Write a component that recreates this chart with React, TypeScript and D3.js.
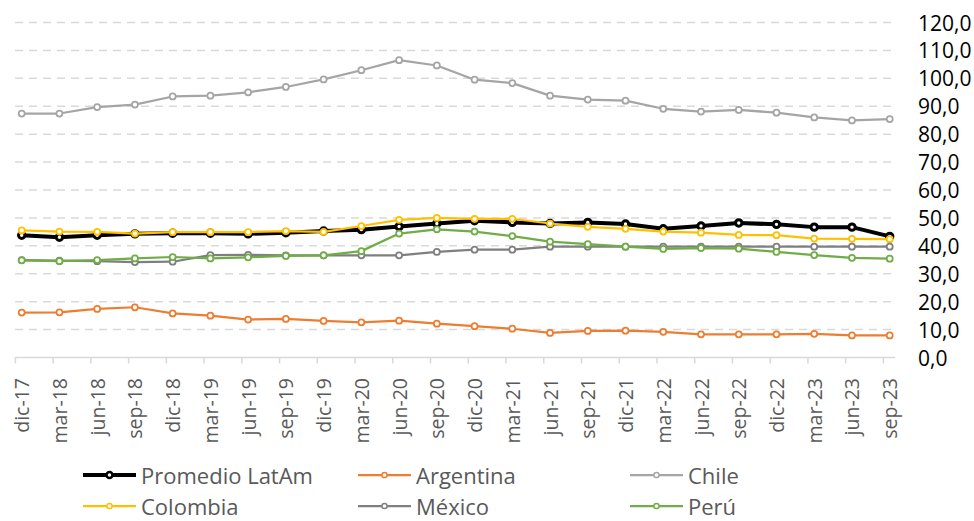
import React from "react";
import * as d3 from "d3";

const categories = [
  "dic-17", "mar-18", "jun-18", "sep-18", "dic-18", "mar-19", "jun-19", "sep-19",
  "dic-19", "mar-20", "jun-20", "sep-20", "dic-20", "mar-21", "jun-21", "sep-21",
  "dic-21", "mar-22", "jun-22", "sep-22", "dic-22", "mar-23", "jun-23", "sep-23",
];

const promedio = [43.8, 43.1, 43.8, 44.3, 44.5, 44.5, 44.3, 44.7, 45.3, 45.8, 46.9, 48.0, 49.0, 48.4, 48.0, 48.4, 47.8, 46.1, 47.1, 48.2, 47.7, 46.7, 46.7, 43.4];
const argentina = [16.1, 16.2, 17.4, 18.0, 15.8, 15.0, 13.6, 13.8, 13.1, 12.6, 13.2, 12.1, 11.2, 10.3, 8.8, 9.5, 9.6, 9.2, 8.3, 8.3, 8.3, 8.5, 7.9, 7.9];
const chile = [87.4, 87.4, 89.7, 90.6, 93.5, 93.8, 95.0, 96.9, 99.6, 102.9, 106.5, 104.6, 99.5, 98.3, 93.8, 92.4, 92.0, 89.1, 88.1, 88.7, 87.7, 86.0, 84.9, 85.4];
const colombia = [45.5, 45.1, 45.0, 44.4, 44.9, 44.9, 44.9, 45.3, 45.0, 47.1, 49.3, 50.0, 49.7, 49.7, 48.0, 46.8, 46.1, 45.1, 44.7, 43.9, 43.8, 42.6, 42.5, 42.4];
const mexico = [34.9, 34.7, 34.5, 34.2, 34.3, 36.7, 36.8, 36.6, 36.6, 36.6, 36.6, 37.8, 38.6, 38.6, 39.7, 39.7, 39.7, 39.7, 39.7, 39.7, 39.7, 39.7, 39.7, 39.7];
const peru = [34.8, 34.5, 34.9, 35.5, 36.0, 35.5, 35.9, 36.4, 36.6, 38.1, 44.4, 45.9, 45.1, 43.5, 41.5, 40.6, 39.7, 38.9, 39.2, 39.0, 37.8, 36.7, 35.7, 35.4];

const seriesNames = ["Promedio LatAm", "Argentina", "Chile", "Colombia", "México", "Perú"];
const seriesColors = ["#000000", "#ED7D31", "#A5A5A5", "#FFC000", "#7F7F7F", "#70AD47"];
const seriesValues = [promedio, argentina, chile, colombia, mexico, peru];

const yTicks = [0, 10, 20, 30, 40, 50, 60, 70, 80, 90, 100, 110, 120];

const FONT = "'Open Sans', 'Noto Sans', sans-serif";

export default function App() {
  const width = 974;
  const height = 521;
  const x = d3.scalePoint<string>().domain(categories).range([21.7, 889.7]);
  const y = d3.scaleLinear().domain([0, 120]).range([357.5, 22.5]);
  const fmt = (v: number) => d3.format(".1f")(v).replace(".", ",");
  const line = d3
    .line<number>()
    .x((_, i) => x(categories[i]) as number)
    .y((d) => y(d));

  const legendCols = [83, 358, 630];
  const legendRows = [475, 506];

  return (
    <svg
      width={width}
      height={height}
      style={{ position: "absolute", left: 0, top: 0, background: "#fff" }}
    >
      {yTicks.filter((t) => t > 0).map((t) => (
        <line
          key={"g" + t}
          x1={15}
          x2={893}
          y1={y(t)}
          y2={y(t)}
          stroke="#D9D9D9"
          strokeWidth={1.5}
          strokeDasharray="8,6"
        />
      ))}
      <line x1={15} x2={895} y1={y(0)} y2={y(0)} stroke="#D9D9D9" strokeWidth={1.5} />
      {categories.map((c) => {
        const tx = (x(c) as number) - 6.3;
        return (
          <line key={"t" + c} x1={tx} x2={tx} y1={y(0)} y2={y(0) + 6} stroke="#D9D9D9" strokeWidth={1.5} />
        );
      })}
      {categories.map((c) => (
        <text
          key={"xl" + c}
          transform={`translate(${x(c)},378) rotate(-90)`}
          textAnchor="end"
          dominantBaseline="central"
          fontFamily={FONT}
          fontSize={19.5}
          fill="#595959"
        >
          {c}
        </text>
      ))}
      {yTicks.map((t) => (
        <text
          key={"yl" + t}
          x={918}
          y={y(t)}
          dominantBaseline="central"
          fontFamily={FONT}
          fontSize={21}
          fill="#000"
        >
          {fmt(t)}
        </text>
      ))}
      {seriesValues.map((vals, si) => {
        const isAvg = si === 0;
        const color = seriesColors[si];
        return (
          <g key={"s" + si}>
            <path
              d={line(vals) || ""}
              fill="none"
              stroke={color}
              strokeWidth={isAvg ? 4 : 2.25}
              strokeLinejoin="round"
            />
            {vals.map((v, i) => (
              <circle
                key={i}
                cx={x(categories[i]) as number}
                cy={y(v)}
                r={isAvg ? 3.2 : 3}
                fill="#fff"
                stroke={color}
                strokeWidth={isAvg ? 3 : 1.75}
              />
            ))}
          </g>
        );
      })}
      {seriesNames.map((name, i) => {
        const col = i % 3;
        const row = Math.floor(i / 3);
        const lx = legendCols[col];
        const ly = legendRows[row];
        const color = seriesColors[i];
        const isAvg = i === 0;
        return (
          <g key={"lg" + name}>
            <line x1={lx} x2={lx + 53} y1={ly} y2={ly} stroke={color} strokeWidth={isAvg ? 4 : 2.25} />
            <circle
              cx={lx + 26.5}
              cy={ly}
              r={isAvg ? 3 : 2.6}
              fill="#fff"
              stroke={color}
              strokeWidth={isAvg ? 2.5 : 1.5}
            />
            <text
              x={lx + 58}
              y={ly}
              dominantBaseline="central"
              fontFamily={FONT}
              fontSize={22}
              fill="#595959"
            >
              {name}
            </text>
          </g>
        );
      })}
    </svg>
  );
}
